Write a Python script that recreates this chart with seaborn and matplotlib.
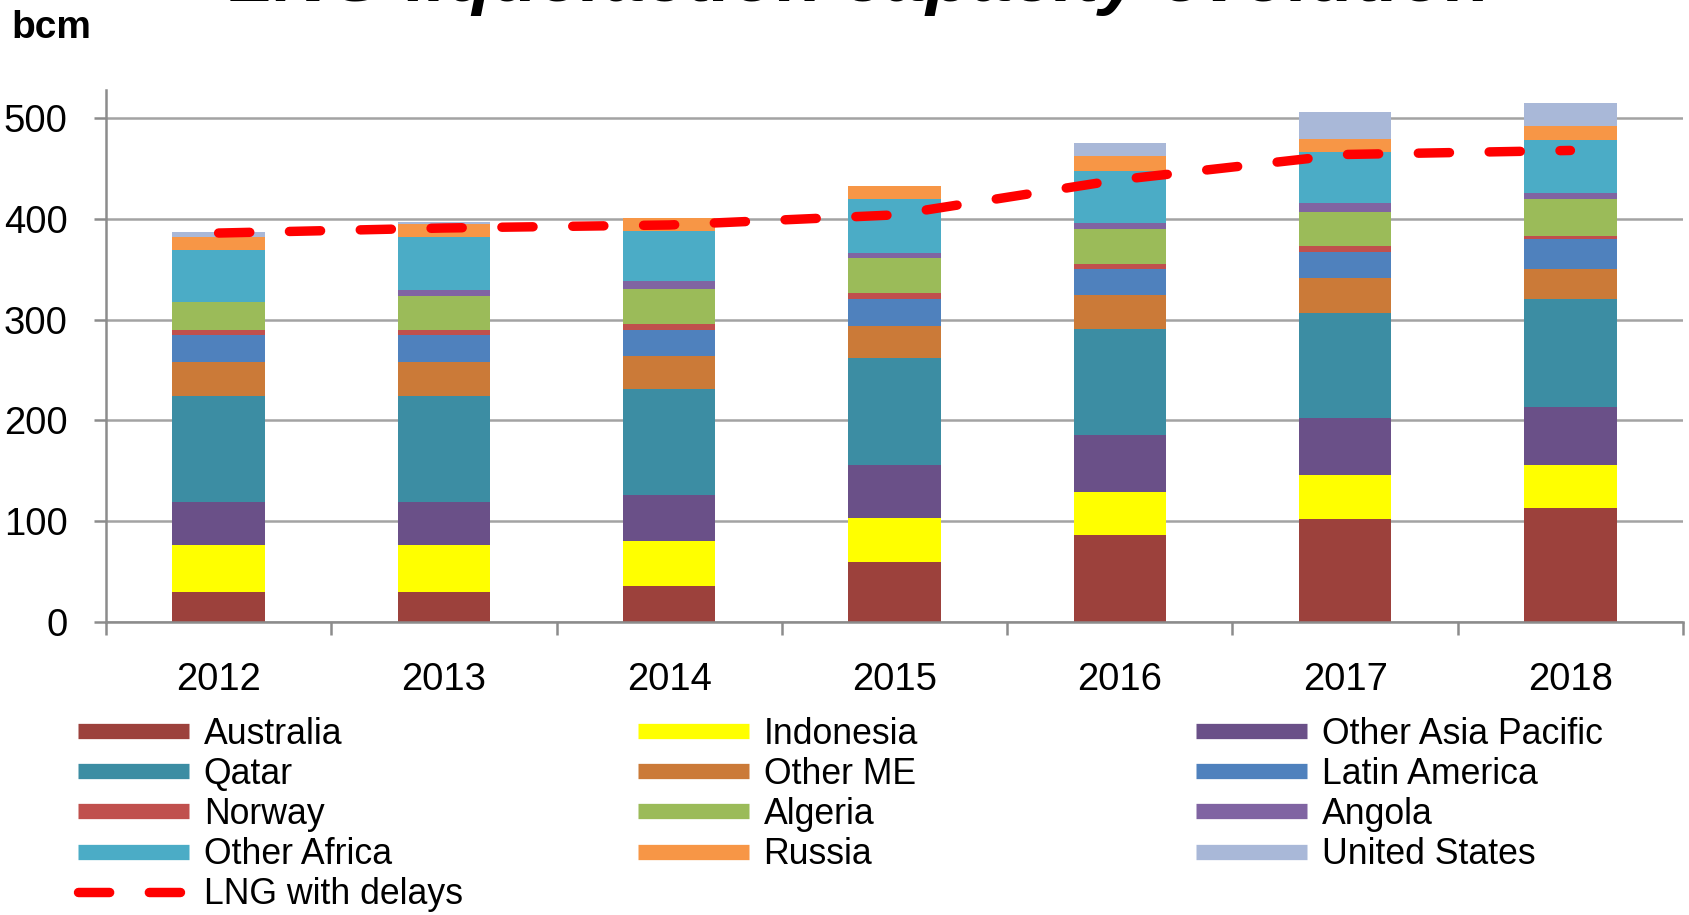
import numpy as np
import pandas as pd
import matplotlib
matplotlib.use('Agg')
import matplotlib.pyplot as plt
from matplotlib.lines import Line2D
import seaborn as sns

# data (bcm)
years = ['2012', '2013', '2014', '2015', '2016', '2017', '2018']
australia = [30, 30, 35.5, 59.5, 86, 102, 113]
indonesia = [46.5, 46.5, 44.5, 43.5, 43, 44, 42.5]
other_asia_pacific = [42.5, 42.5, 46, 52.5, 56, 56, 58]
qatar = [105.5, 105.5, 105.5, 106, 106, 105, 106.5]
other_me = [33.5, 33.5, 32.5, 32, 33, 34, 30.5]
latin_america = [26.5, 26.5, 26, 26.5, 26.5, 26.5, 30]
norway = [5.5, 5.5, 6, 6, 5, 5.5, 3]
algeria = [27.5, 33.5, 34, 35, 35, 34, 36.5]
angola = [0, 6, 8, 5, 5, 9, 5.5]
other_africa = [51.5, 52.5, 50, 53.5, 52.5, 50.5, 53]
russia = [13.5, 13, 13, 13.5, 14, 12.5, 13.5]
united_states = [5, 2, 0, 0, 13.5, 27.5, 23]
lng_with_delays = [386, 391, 394, 404, 439, 464, 468]

# stack order, bottom to top
series = [
    ('Australia', australia, '#9C413C'),
    ('Indonesia', indonesia, '#FFFF00'),
    ('Other Asia Pacific', other_asia_pacific, '#6A5088'),
    ('Qatar', qatar, '#3C8DA3'),
    ('Other ME', other_me, '#CB7A38'),
    ('Latin America', latin_america, '#4F81BD'),
    ('Norway', norway, '#C0504D'),
    ('Algeria', algeria, '#9BBB59'),
    ('Angola', angola, '#8064A2'),
    ('Other Africa', other_africa, '#4BACC6'),
    ('Russia', russia, '#F79646'),
    ('United States', united_states, '#A9B8D8'),
]

df = pd.DataFrame({name: vals for name, vals, _ in series}, index=years)
cum = df.cumsum(axis=1)

sns.set_theme(style='white')
plt.rcParams['font.family'] = ['Liberation Sans', 'DejaVu Sans']
plt.rcParams['text.color'] = 'black'

fig = plt.figure(figsize=(16.9, 9.15), dpi=100)
ax = fig.add_axes([0.0627, 0.3205, 0.9332, 0.5811])

grey = '#A3A3A3'

# draw cumulative totals from the top series down so lower ones cover upper ones
for name, _, color in reversed(series):
    sns.barplot(x=years, y=cum[name].values, color=color, width=0.41,
                saturation=1, linewidth=0, errorbar=None, ax=ax)

sns.pointplot(x=years, y=lng_with_delays, color='#FF0000', marker='',
              linestyle='--', errorbar=None, ax=ax)
line = ax.lines[-1]
line.set_linewidth(6.8)
line.set_dashes((3.3, 4.2))
line.set_dash_capstyle('round')
line.set_zorder(5)

ax.set_ylim(0, 528)
ax.set_xlim(-0.5, 6.5)
ax.set_yticks([0, 100, 200, 300, 400, 500])
ax.set_xticks(np.arange(-0.5, 7, 1), minor=True)
ax.set_xlabel('')
ax.set_ylabel('')

ax.yaxis.grid(True, color=grey, linewidth=1.8)
ax.xaxis.grid(False)
ax.set_axisbelow(True)

for side in ['top', 'right']:
    ax.spines[side].set_visible(False)
for side in ['left', 'bottom']:
    ax.spines[side].set_color('#8C8C8C')
    ax.spines[side].set_linewidth(1.8)

ax.tick_params(axis='x', which='major', length=0, pad=29, labelsize=27.5,
               labelcolor='black')
ax.tick_params(axis='x', which='minor', length=9.4, width=1.8, color='#8C8C8C',
               direction='out', bottom=True)
ax.tick_params(axis='y', which='major', length=8.6, width=1.8, color='#8C8C8C',
               direction='out', left=True, pad=19, labelsize=27.5,
               labelcolor='black')

# title is clipped at the top edge in the source image
fig.text(0.509, 0.9985, 'LNG liquefaction capacity evolution', ha='center',
         va='baseline', fontsize=53.5, fontweight='bold', fontstyle='italic',
         color='black')
fig.text(0.0065, 0.9585, 'bcm', ha='left', va='baseline', fontsize=28,
         fontweight='bold', color='black')

# legend: three columns laid out like the Excel original
colors = {name: color for name, _, color in series}


def patch_handle(name):
    return Line2D([0], [0], color=colors[name], linewidth=11,
                  solid_capstyle='butt')


lng_handle = Line2D([0], [0], color='#FF0000', linewidth=6.8, linestyle='--',
                    dashes=(3.3, 4.2), dash_capstyle='round')

columns = [
    (0.0462, ['Australia', 'Qatar', 'Norway', 'Other Africa'], True),
    (0.3775, ['Indonesia', 'Other ME', 'Algeria', 'Russia'], False),
    (0.7077, ['Other Asia Pacific', 'Latin America', 'Angola', 'United States'], False),
]
for x0, names, with_lng in columns:
    handles = [patch_handle(n) for n in names]
    labels = list(names)
    if with_lng:
        handles.append(lng_handle)
        labels.append('LNG with delays')
    fig.legend(handles, labels, loc='upper left', bbox_to_anchor=(x0, 0.2168),
               frameon=False, fontsize=25.7, handlelength=3.1,
               handletextpad=0.42, labelspacing=0.145, borderpad=0,
               borderaxespad=0, labelcolor='black')

fig.savefig('out.png', dpi=100)
